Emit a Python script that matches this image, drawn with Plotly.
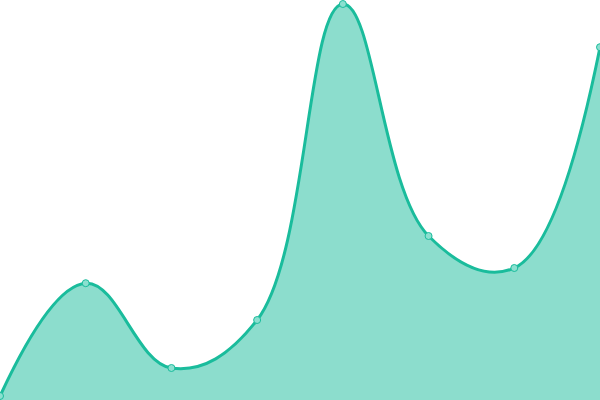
import plotly.graph_objects as go

# points along the curve, left to right
x_vals = [0, 1, 2, 3, 4, 5, 6, 7]
y_vals = [1, 29.2, 8, 20, 99, 41, 33, 88.2]

fig = go.Figure()
fig.add_trace(go.Scatter(
    x=x_vals, y=y_vals,
    mode="lines+markers",
    line=dict(shape="spline", smoothing=1.15, color="#1abc9c", width=3),
    marker=dict(size=7, color="#8be0d0", line=dict(color="#1abc9c", width=1)),
    fill="tozeroy",
    fillcolor="rgba(26,188,156,0.5)",
    hoverinfo="skip",
    cliponaxis=False,
))

fig.update_layout(
    width=600, height=400,
    margin=dict(l=0, r=0, t=0, b=0),
    paper_bgcolor="white", plot_bgcolor="white",
    showlegend=False,
    xaxis=dict(range=[0, 7], visible=False),
    yaxis=dict(range=[0, 100], visible=False),
)

# drop the page's default body margin so the chart sits at the window corner
fig.write_html("out.html", config={"displayModeBar": False},
               post_script="document.body.style.margin='0';")
